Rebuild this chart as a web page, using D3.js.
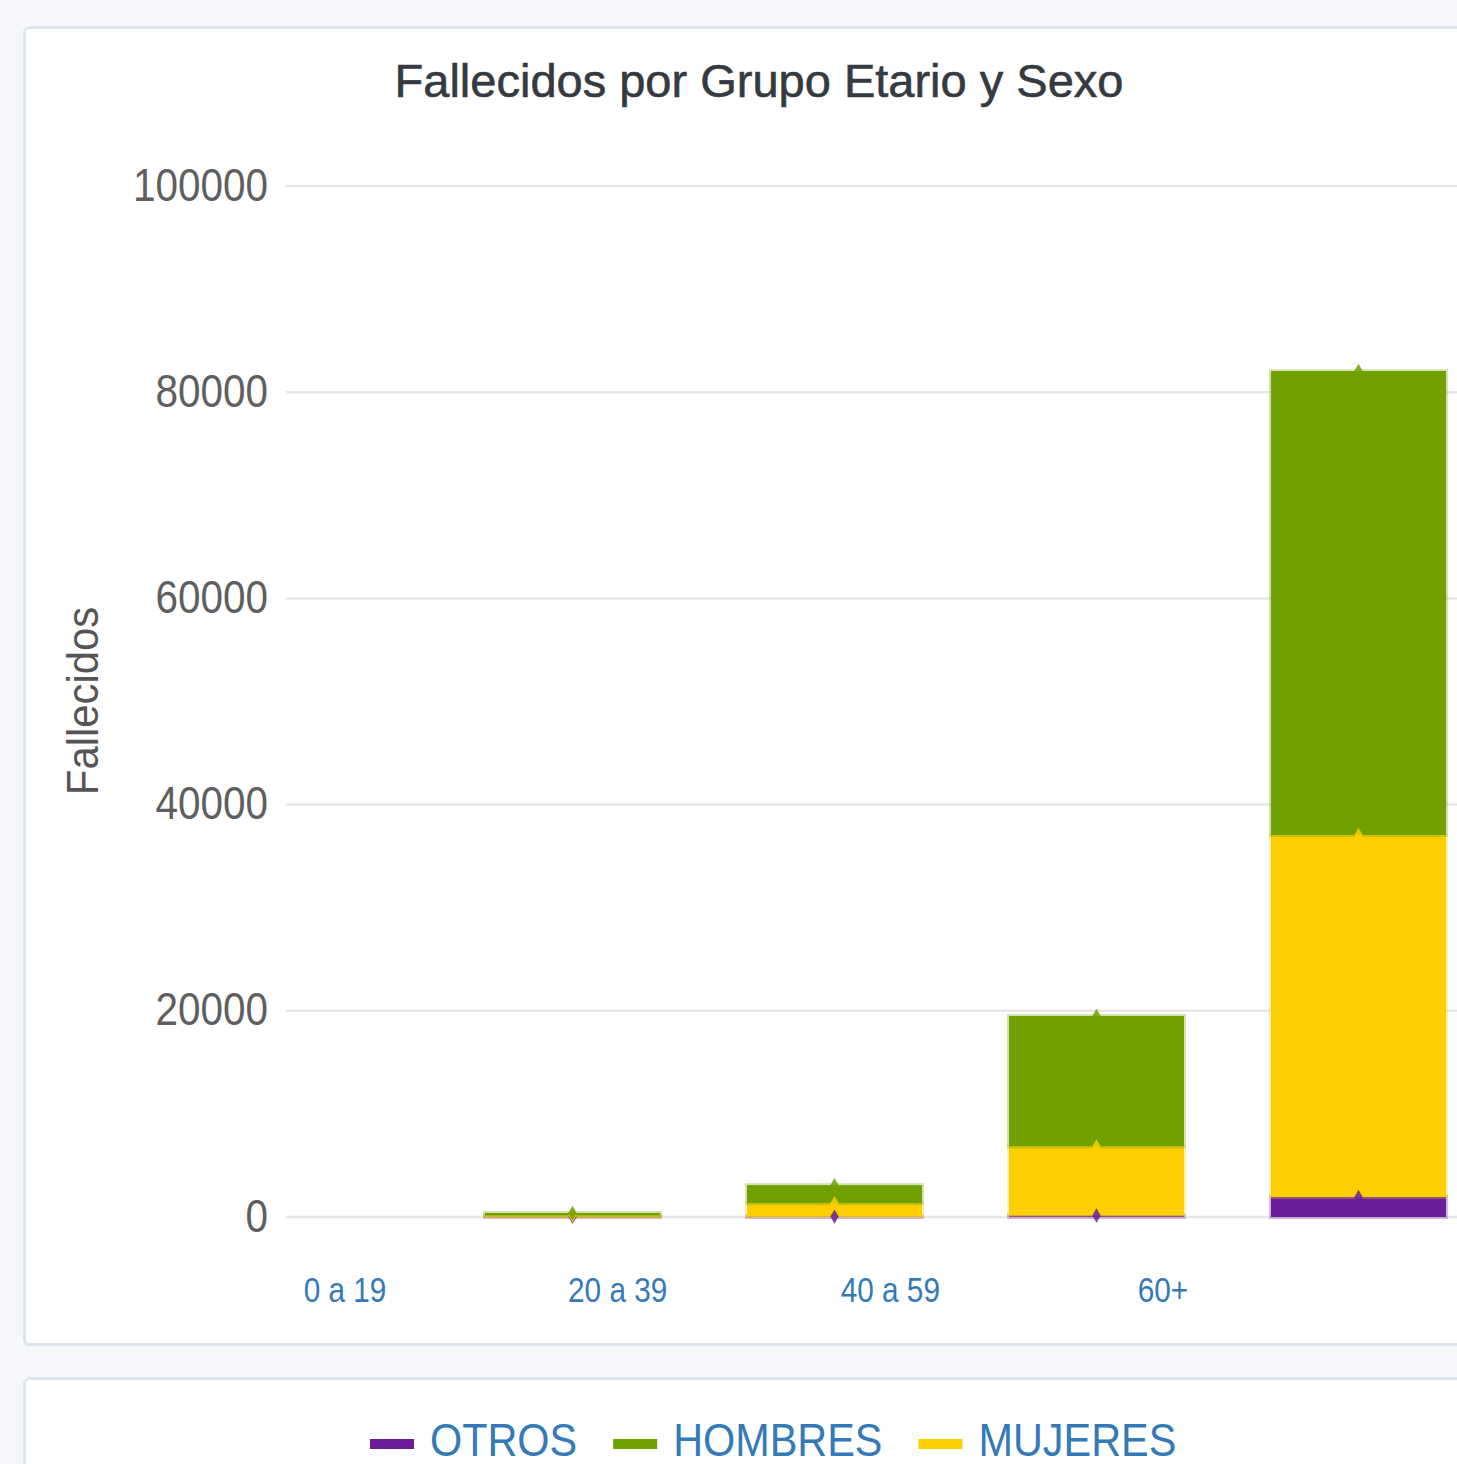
<!DOCTYPE html>
<html>
<head>
<meta charset="utf-8">
<script src="https://cdn.jsdelivr.net/npm/d3@7"></script>
<style>
  html, body { margin: 0; padding: 0; background: #f5f7fa; }
  svg { display: block; }
</style>
</head>
<body>
<svg id="chart" width="1457" height="1464"></svg>
<script>
// ---- data ----
const categories = ["0 a 19", "20 a 39", "40 a 59", "60+"];
const otros   = [20, 40, 150, 1950];
const mujeres = [140, 1300, 6700, 35100];
const hombres = [230, 1750, 12650, 45000];
const seriesNames = ["OTROS", "MUJERES", "HOMBRES"];
const legendOrder = ["OTROS", "HOMBRES", "MUJERES"];
const yTicks = [0, 20000, 40000, 60000, 80000, 100000];
const title = "Fallecidos por Grupo Etario y Sexo";
const yTitle = "Fallecidos";

const colors = { OTROS: "#6a1e9a", HOMBRES: "#70a100", MUJERES: "#fecf00" };

const svg = d3.select("#chart");
const font = "'Liberation Sans', Arial, sans-serif";

// cards
svg.append("rect").attr("x", 24.5).attr("y", 27.5).attr("width", 1500).attr("height", 1317)
  .attr("rx", 5).attr("fill", "#fff").attr("stroke", "#dfe5ee").attr("stroke-width", 3);
svg.append("rect").attr("x", 24.5).attr("y", 1378.5).attr("width", 1500).attr("height", 200)
  .attr("rx", 5).attr("fill", "#fff").attr("stroke", "#dfe5ee").attr("stroke-width", 3);

// scales
const y = d3.scaleLinear().domain([0, 100000]).range([1217, 186]);
const xBars = d3.scaleBand().domain(categories).range([354, 1577]).paddingInner(0.332).paddingOuter(0.5);
const xLabels = d3.scalePoint().domain(categories).range([345, 1163]);

// title
svg.append("text").attr("x", 759).attr("y", 97).attr("text-anchor", "middle")
  .attr("font-family", font).attr("font-size", 47).attr("fill", "#343a40")
  .attr("stroke", "#343a40").attr("stroke-width", 0.6).text(title);

// gridlines + y tick labels
const yAxis = d3.axisLeft(y).tickValues(yTicks).tickFormat(d3.format("d")).tickSize(0).tickPadding(0);
const yG = svg.append("g").attr("transform", "translate(286,0)");
yG.selectAll("line.grid").data(yTicks).join("line").attr("class", "grid")
  .attr("x1", 0).attr("x2", 1300).attr("y1", d => y(d)).attr("y2", d => y(d))
  .attr("stroke", "#e7e7e7").attr("stroke-width", 2.5);
const yAx = svg.append("g").attr("transform", "translate(268,0)").call(yAxis);
yAx.select(".domain").remove();
yAx.selectAll(".tick text").each(function(d) {
  const t = d3.select(this);
  t.attr("x", null).attr("dy", null).attr("y", null)
   .attr("transform", `translate(0,14) scale(0.88,1)`)
   .attr("text-anchor", "end").attr("font-family", font).attr("font-size", 46).attr("fill", "#5f5f5f");
});

// y title
svg.append("text").attr("transform", "translate(98,701) rotate(-90) scale(0.93,1)")
  .attr("text-anchor", "middle").attr("font-family", font).attr("font-size", 45)
  .attr("fill", "#555").text(yTitle);

// stacked data
const rows = categories.map((c, i) => ({ cat: c, OTROS: otros[i], MUJERES: mujeres[i], HOMBRES: hombres[i] }));
const stack = d3.stack().keys(seriesNames)(rows);

const barsG = svg.append("g");
stack.forEach(layer => {
  barsG.selectAll(null).data(layer).join("rect")
    .attr("x", d => xBars(d.data.cat))
    .attr("width", xBars.bandwidth())
    .attr("y", d => y(d[1]))
    .attr("height", d => Math.max(0, y(d[0]) - y(d[1])))
    .attr("fill", colors[layer.key])
    .attr("stroke", colors[layer.key]).attr("stroke-opacity", 0.3).attr("stroke-width", 4);
});
// markers at segment tops
const sym = d3.symbol().type(d3.symbolDiamond).size(60);
stack.forEach(layer => {
  barsG.selectAll(null).data(layer).join("path")
    .attr("d", sym)
    .attr("transform", d => `translate(${xBars(d.data.cat) + xBars.bandwidth() / 2},${y(d[1])})`)
    .attr("fill", colors[layer.key]).attr("fill-opacity", 0.85);
});

// x labels
svg.append("g").selectAll("text").data(categories).join("text")
  .attr("transform", d => `translate(${xLabels(d)},1302) scale(0.85,1)`)
  .attr("text-anchor", "middle").attr("font-family", font).attr("font-size", 35)
  .attr("fill", "#337ab7").text(d => d);

// legend
const lg = svg.append("g");
let lx = 370;
legendOrder.forEach(name => {
  lg.append("rect").attr("x", lx).attr("y", 1439).attr("width", 44).attr("height", 10)
    .attr("fill", colors[name]);
  const t = lg.append("text").attr("transform", `translate(${lx + 60},1456) scale(0.9,1)`)
    .attr("font-family", font).attr("font-size", 46).attr("fill", "#337ab7").text(name);
  const w = t.node().getComputedTextLength() * 0.9;
  lx += 60 + w + 36;
});
</script>
</body>
</html>
